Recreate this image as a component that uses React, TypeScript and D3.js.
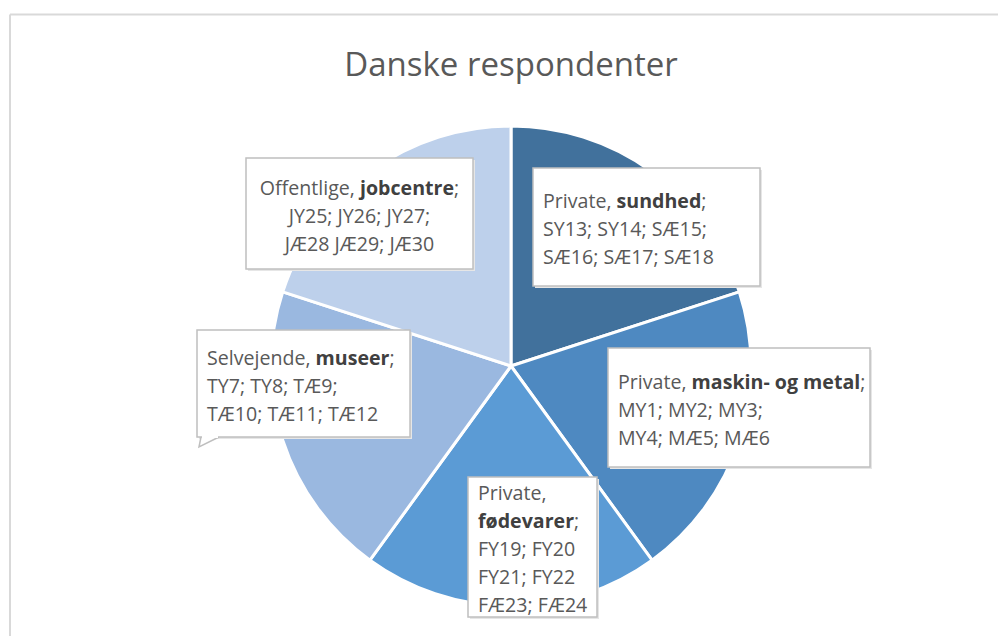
import React from "react";
import * as d3 from "d3";

// ---- data ----
const sectors = ["Private", "Private", "Private", "Selvejende", "Offentlige"];
const categories = ["sundhed", "maskin- og metal", "fødevarer", "museer", "jobcentre"];
const values = [6, 6, 6, 6, 6];
const codeLines = [
  ["SY13; SY14; SÆ15;", "SÆ16; SÆ17; SÆ18"],
  ["MY1; MY2; MY3;", "MY4; MÆ5; MÆ6"],
  ["FY19; FY20", "FY21; FY22", "FÆ23; FÆ24"],
  ["TY7; TY8; TÆ9;", "TÆ10; TÆ11; TÆ12"],
  ["JY25; JY26; JY27;", "JÆ28 JÆ29; JÆ30"],
];
const title = "Danske respondenter";

// ---- styles / layout ----
const colors = ["#41719c", "#4e89c1", "#5b9bd5", "#9ab8e0", "#bdd0eb"];
const W = 998;
const H = 636;
const cx = 511;
const cy = 366;
const R = 240;
const FONT = "'Open Sans', 'Noto Sans', sans-serif";
const LINE_H = 28;
const FS = 19.6;
// label box layout: offsets from the pie center
const boxLayout = [
  { dx: 22, dy: -198, w: 227, h: 118, align: "start", splitHeader: false, tail: false },
  { dx: 97, dy: -18, w: 262, h: 119, align: "start", splitHeader: false, tail: false },
  { dx: -43, dy: 111, w: 129, h: 140, align: "start", splitHeader: true, tail: false },
  { dx: -314, dy: -36, w: 213, h: 107, align: "start", splitHeader: false, tail: true },
  { dx: -265, dy: -208, w: 227, h: 111, align: "middle", splitHeader: false, tail: false },
];

export default function App() {
  const pie = d3
    .pie<number>()
    .sort(null)
    .startAngle(0)
    .endAngle(2 * Math.PI)
    .value((d) => d);
  const arcs = pie(values);
  const arc = d3.arc<d3.PieArcDatum<number>>().innerRadius(0).outerRadius(R);

  return (
    <svg
      width={W}
      height={H}
      style={{ position: "absolute", left: 0, top: 0, display: "block", background: "#fff" }}
    >
      {/* frame */}
      <line x1={10} y1={14.5} x2={W} y2={14.5} stroke="#d9d9d9" strokeWidth={2} />
      <line x1={10} y1={14.5} x2={10} y2={H} stroke="#d9d9d9" strokeWidth={2} />

      <text
        x={cx}
        y={76}
        textAnchor="middle"
        fontFamily={FONT}
        fontSize={33}
        fill="#595959"
      >
        {title}
      </text>

      <g transform={`translate(${cx},${cy})`}>
        {arcs.map((a, i) => (
          <path key={i} d={arc(a) || ""} fill={colors[i]} stroke="#fff" strokeWidth={3} strokeLinejoin="round" />
        ))}
      </g>

      {arcs.map((a, i) => {
        const L = boxLayout[i];
        const x = cx + L.dx;
        const y = cy + L.dy;
        const header: React.ReactNode[][] = L.splitHeader
          ? [
              [<tspan key="s">{sectors[i] + ","}</tspan>],
              [
                <tspan key="b" fontWeight="bold" fill="#404040">{categories[i]}</tspan>,
                <tspan key="e">;</tspan>,
              ],
            ]
          : [
              [
                <tspan key="s">{sectors[i] + ", "}</tspan>,
                <tspan key="b" fontWeight="bold" fill="#404040">{categories[i]}</tspan>,
                <tspan key="e">;</tspan>,
              ],
            ];
        const lines: React.ReactNode[][] = [...header, ...codeLines[i].map((c) => [c])];
        const n = lines.length;
        const midY = y + L.h / 2 + 2;
        const tx = L.align === "middle" ? x + L.w / 2 : x + 10;
        return (
          <g key={i}>
            <rect x={x + 2} y={y + 2} width={L.w} height={L.h} fill="#e6e6e6" />
            {L.tail && (
              <path
                d={`M${x + 4},${y + L.h} L${x + 2},${y + L.h + 10} L${x + 22},${y + L.h}`}
                fill="#fff"
                stroke="#bfbfbf"
                strokeWidth={1.5}
              />
            )}
            <rect x={x} y={y} width={L.w} height={L.h} fill="#fff" stroke="#bfbfbf" strokeWidth={1.5} />
            {L.tail && (
              <line x1={x + 5} y1={y + L.h} x2={x + 21} y2={y + L.h} stroke="#fff" strokeWidth={2} />
            )}
            {lines.map((ln, j) => (
              <text
                key={j}
                x={tx}
                y={midY + (j - (n - 1) / 2) * LINE_H + 7}
                textAnchor={L.align}
                fontFamily={FONT}
                fontSize={FS}
                fill="#595959"
              >
                {ln}
              </text>
            ))}
          </g>
        );
      })}
    </svg>
  );
}
